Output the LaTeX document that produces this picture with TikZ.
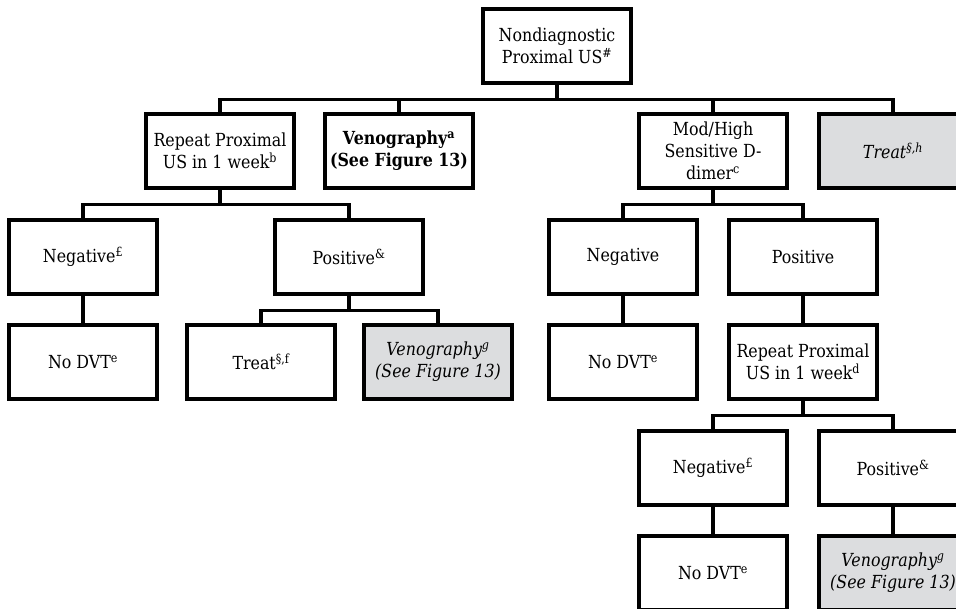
\documentclass[tikz,border=0pt]{standalone}
\usepackage{fontspec}
\setmainfont{DejaVu Serif}[FakeStretch=0.88]
\usepackage{tikz}

\definecolor{boxgrey}{RGB}{220,221,223}
\tikzset{
	stepbox/.style = {draw, line width = 3.2pt, minimum width = 148pt, minimum height = 74pt,
		align = center, inner sep = 1pt, font = \fontsize{18}{22}\selectfont},
	greybox/.style = {stepbox, fill = boxgrey},
	link/.style = {line width = 3.2pt},
}

\begin{document}
\begin{tikzpicture}[x = 1pt, y = -1pt]
\useasboundingbox (0,0) rectangle (956,608);
\clip (0,0) rectangle (956,608);

% top
\node[stepbox] (start) at (557,46) {Nondiagnostic\\Proximal US\textsuperscript{\#}};

% first split
\node[stepbox] (repA) at (220,151) {Repeat Proximal\\US in 1 week\textsuperscript{b}};
\node[stepbox] (venA) at (399,151) {\textbf{Venography\textsuperscript{a}}\\\textbf{(See Figure 13)}};
\node[stepbox] (dimer) at (713,151) {Mod/High\\Sensitive D-\\dimer\textsuperscript{c}};
\node[greybox] (treatA) at (893,151) {\textit{Treat\textsuperscript{§,h}}};

% after repeat US
\node[stepbox] (negA) at (83,257) {Negative\textsuperscript{£}};
\node[stepbox] (posA) at (349,257) {Positive\textsuperscript{\&}};
\node[stepbox] (nodvtA) at (83,362) {No DVT\textsuperscript{e}};
\node[stepbox] (treatB) at (261,362) {Treat\textsuperscript{§,f}};
\node[greybox] (venB) at (438,362) {\textit{Venography\textsuperscript{g}}\\\textit{(See Figure 13)}};

% after D-dimer
\node[stepbox] (negB) at (623,257) {Negative};
\node[stepbox] (posB) at (803,257) {Positive};
\node[stepbox] (nodvtB) at (623,362) {No DVT\textsuperscript{e}};
\node[stepbox] (repB) at (803,362) {Repeat Proximal\\US in 1 week\textsuperscript{d}};
\node[stepbox] (negC) at (713,468) {Negative\textsuperscript{£}};
\node[stepbox] (posC) at (893,468) {Positive\textsuperscript{\&}};
\node[stepbox] (nodvtC) at (713,573) {No DVT\textsuperscript{e}};
\node[greybox] (venC) at (893,573) {\textit{Venography\textsuperscript{g}}\\\textit{(See Figure 13)}};

% connectors
\foreach \p/\c in {start/repA, start/venA, start/dimer, start/treatA,
		repA/negA, repA/posA, posA/treatB, posA/venB,
		dimer/negB, dimer/posB, repB/negC, repB/posC}
	\draw[link] (\p.south) -- ++(0,15) -| (\c.north);

\foreach \p/\c in {negA/nodvtA, negB/nodvtB, posB/repB, negC/nodvtC, posC/venC}
	\draw[link] (\p.south) -- (\c.north);
\end{tikzpicture}
\end{document}
